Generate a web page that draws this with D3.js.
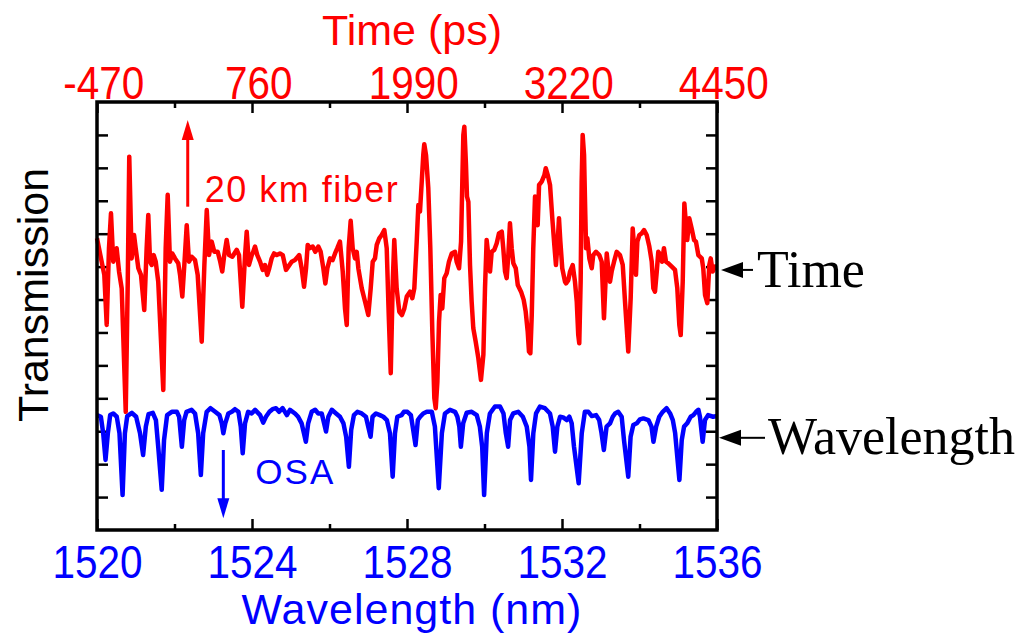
<!DOCTYPE html>
<html>
<head>
<meta charset="utf-8">
<script src="https://cdn.jsdelivr.net/npm/d3@7"></script>
<style>
  body { margin: 0; background: #fff; }
  text { font-family: "Liberation Sans", Arial, sans-serif; }
</style>
</head>
<body>
<div id="chart"></div>
<script>
// axis ticks
var waveTicks = [1520, 1524, 1528, 1532, 1536];
var timeTicks = [-470, 760, 1990, 3220, 4450];

// red trace: transmission after 20 km fiber vs time (ps)
var timePs = [-470, -433, -412, -393, -375, -359, -341, -327, -314, -295, -274, -242, -226, -214, -195, -176, -163, -142, -121, -95,
  -76, -63, -49, -36, -20, -4, 16, 56, 75, 91, 109, 128, 149, 175, 189, 207, 223, 242, 260, 282,
  308, 329, 361, 382, 401, 419, 440, 461, 488, 508, 524, 540, 559, 578, 604, 639, 657, 683, 705, 718,
  736, 758, 770, 784, 802, 824, 845, 863, 881, 897, 916, 935, 956, 982, 1004, 1030, 1048, 1075, 1101, 1135,
  1154, 1173, 1189, 1202, 1220, 1242, 1262, 1286, 1305, 1326, 1342, 1358, 1379, 1400, 1419, 1437, 1458, 1480, 1498, 1512,
  1527, 1543, 1559, 1577, 1591, 1604, 1631, 1657, 1683, 1702, 1718, 1736, 1750, 1770, 1789, 1810, 1829, 1845, 1861, 1877,
  1889, 1908, 1929, 1950, 1969, 1988, 2014, 2032, 2048, 2067, 2080, 2093, 2107, 2119, 2127, 2141, 2159, 2175, 2191, 2207,
  2218, 2231, 2244, 2257, 2270, 2286, 2305, 2323, 2345, 2371, 2384, 2403, 2419, 2429, 2437, 2445, 2458, 2466, 2477, 2490,
  2503, 2516, 2535, 2556, 2577, 2596, 2609, 2622, 2635, 2649, 2662, 2683, 2702, 2720, 2742, 2754, 2768, 2781, 2794, 2807,
  2821, 2834, 2853, 2869, 2895, 2916, 2932, 2948, 2958, 2969, 2980, 2992, 3006, 3019, 3027, 3038, 3059, 3080, 3091, 3107,
  3125, 3143, 3159, 3172, 3186, 3196, 3207, 3222, 3244, 3252, 3270, 3284, 3305, 3323, 3337, 3349, 3357, 3368, 3376, 3384,
  3395, 3405, 3411, 3421, 3437, 3456, 3468, 3490, 3516, 3535, 3553, 3575, 3587, 3601, 3614, 3633, 3654, 3680, 3702, 3720,
  3746, 3765, 3781, 3799, 3807, 3818, 3834, 3853, 3871, 3892, 3913, 3932, 3945, 3958, 3972, 3984, 4003, 4014, 4029, 4045,
  4064, 4091, 4117, 4135, 4151, 4162, 4178, 4191, 4204, 4214, 4230, 4249, 4268, 4283, 4302, 4329, 4341, 4355, 4373, 4389,
  4400, 4416, 4434, 4450];
var timeTrans = [8.86, 8.15, 7.75, 6.23, 8.56, 9.62, 8.15, 8.35, 8.56, 7.85, 7.34, 3.59, 7.54, 11.34, 8.25, 8.96, 8.56, 7.95, 7.75, 6.68,
  8.56, 9.57, 8.15, 8.05, 8.35, 8.15, 7.54, 4.25, 8.56, 10.18, 8.15, 8.40, 8.25, 8.10, 7.75, 7.09, 8.05, 9.26, 8.15, 8.30,
  8.20, 7.75, 5.72, 8.05, 9.72, 8.35, 8.76, 8.45, 8.45, 8.15, 7.85, 8.35, 8.81, 8.35, 8.30, 8.51, 8.35, 6.78, 8.35, 9.06,
  8.05, 8.35, 8.45, 8.61, 8.35, 8.15, 7.90, 8.05, 7.75, 7.95, 8.25, 8.40, 8.35, 8.40, 8.35, 7.90, 8.00, 8.15, 8.20, 8.35,
  7.95, 7.39, 7.95, 8.66, 8.56, 8.61, 8.45, 8.61, 8.45, 7.95, 7.49, 7.95, 8.25, 8.20, 8.40, 8.56, 8.76, 7.85, 6.73, 6.23,
  8.56, 9.39, 8.56, 8.25, 8.45, 7.95, 7.34, 6.94, 6.53, 7.34, 8.15, 8.25, 8.66, 8.86, 8.96, 9.11, 8.56, 6.53, 4.76, 7.54,
  8.81, 7.34, 6.63, 6.53, 6.73, 7.09, 7.24, 7.04, 7.34, 8.76, 9.87, 9.67, 10.58, 11.39, 11.72, 11.39, 10.38, 8.56, 6.02, 4.00,
  3.70, 4.50, 6.33, 7.14, 6.73, 7.65, 7.80, 8.15, 8.40, 8.45, 8.15, 7.95, 8.76, 10.58, 12.00, 12.25, 11.09, 10.13, 9.97, 8.05,
  6.94, 6.13, 5.72, 5.22, 4.56, 5.32, 7.34, 8.81, 8.35, 7.85, 8.45, 8.51, 8.71, 9.01, 9.06, 8.56, 7.85, 7.65, 8.35, 9.32,
  8.56, 8.10, 7.95, 7.44, 7.24, 6.99, 6.63, 6.02, 5.42, 5.37, 6.53, 8.56, 10.13, 9.37, 9.26, 10.48, 10.58, 10.78, 10.99, 10.78,
  10.48, 9.47, 8.66, 8.05, 8.76, 9.47, 8.76, 7.95, 7.54, 7.49, 7.59, 7.85, 8.05, 7.54, 6.94, 5.92, 5.67, 7.54, 10.58, 12.00,
  11.39, 9.57, 8.56, 8.86, 8.25, 7.95, 8.35, 8.45, 8.35, 8.15, 6.43, 8.40, 7.95, 7.54, 7.85, 8.15, 8.45, 8.35, 8.05, 6.94,
  5.42, 7.04, 9.16, 8.25, 7.75, 8.76, 8.96, 9.01, 9.11, 8.96, 8.61, 8.15, 7.34, 7.24, 7.85, 8.45, 8.35, 8.15, 8.56, 8.15,
  8.10, 8.00, 7.90, 7.34, 6.23, 5.92, 7.54, 9.92, 9.26, 8.81, 9.47, 9.16, 8.81, 8.76, 8.35, 8.25, 7.95, 7.14, 6.89, 8.05,
  8.25, 7.85, 8.00, 8.00];

// blue trace: OSA transmission vs wavelength (nm)
var waveNm = [1520.00, 1520.10, 1520.16, 1520.22, 1520.28, 1520.34, 1520.42, 1520.51, 1520.58, 1520.66, 1520.72, 1520.78, 1520.90, 1521.01, 1521.11, 1521.19, 1521.26, 1521.33, 1521.44, 1521.52,
  1521.58, 1521.67, 1521.73, 1521.81, 1521.93, 1522.06, 1522.12, 1522.19, 1522.25, 1522.31, 1522.44, 1522.53, 1522.61, 1522.68, 1522.74, 1522.83, 1522.93, 1523.05, 1523.16, 1523.22,
  1523.26, 1523.31, 1523.39, 1523.48, 1523.56, 1523.65, 1523.71, 1523.76, 1523.82, 1523.90, 1523.99, 1524.08, 1524.21, 1524.29, 1524.36, 1524.45, 1524.53, 1524.62, 1524.70, 1524.79,
  1524.90, 1524.98, 1525.11, 1525.19, 1525.28, 1525.34, 1525.39, 1525.45, 1525.54, 1525.63, 1525.71, 1525.80, 1525.86, 1525.91, 1525.97, 1526.06, 1526.17, 1526.27, 1526.36, 1526.43,
  1526.50, 1526.56, 1526.63, 1526.72, 1526.83, 1526.94, 1527.00, 1527.06, 1527.11, 1527.20, 1527.30, 1527.39, 1527.48, 1527.56, 1527.63, 1527.69, 1527.75, 1527.86, 1527.92, 1528.01,
  1528.10, 1528.16, 1528.22, 1528.28, 1528.34, 1528.42, 1528.51, 1528.64, 1528.72, 1528.82, 1528.90, 1528.98, 1529.11, 1529.24, 1529.30, 1529.35, 1529.39, 1529.45, 1529.54, 1529.67,
  1529.80, 1529.88, 1529.94, 1529.99, 1530.06, 1530.14, 1530.27, 1530.40, 1530.49, 1530.55, 1530.61, 1530.66, 1530.74, 1530.87, 1530.99, 1531.09, 1531.16, 1531.20, 1531.26, 1531.33,
  1531.43, 1531.56, 1531.69, 1531.76, 1531.82, 1531.88, 1531.95, 1532.03, 1532.12, 1532.19, 1532.25, 1532.31, 1532.43, 1532.51, 1532.59, 1532.68, 1532.77, 1532.88, 1532.96, 1533.02,
  1533.08, 1533.15, 1533.24, 1533.31, 1533.37, 1533.45, 1533.54, 1533.60, 1533.71, 1533.77, 1533.84, 1533.93, 1534.01, 1534.10, 1534.23, 1534.31, 1534.36, 1534.43, 1534.51, 1534.60,
  1534.70, 1534.79, 1534.86, 1534.92, 1535.03, 1535.09, 1535.15, 1535.23, 1535.32, 1535.39, 1535.46, 1535.52, 1535.56, 1535.63, 1535.69, 1535.77, 1535.90, 1536.00];
var waveTrans = [3.49, 3.44, 2.94, 2.13, 2.94, 3.49, 3.54, 3.44, 2.94, 1.06, 2.94, 3.46, 3.56, 3.44, 2.94, 2.28, 3.14, 3.52, 3.56, 3.34,
  2.53, 1.22, 2.73, 3.49, 3.59, 3.59, 3.44, 2.53, 3.34, 3.59, 3.65, 3.54, 2.94, 1.67, 2.94, 3.59, 3.70, 3.59, 3.49, 3.24,
  2.94, 3.24, 3.54, 3.59, 3.67, 3.59, 3.14, 2.33, 3.24, 3.59, 3.54, 3.65, 3.49, 3.26, 3.44, 3.59, 3.67, 3.70, 3.59, 3.70,
  3.49, 3.65, 3.54, 3.44, 3.24, 2.94, 2.68, 3.24, 3.59, 3.65, 3.54, 3.54, 3.24, 2.99, 3.44, 3.65, 3.54, 3.44, 3.24, 2.83,
  1.92, 3.04, 3.49, 3.59, 3.54, 3.44, 3.14, 2.83, 3.44, 3.54, 3.49, 3.44, 3.34, 2.94, 1.62, 2.94, 3.44, 3.49, 3.59, 3.59,
  3.49, 3.04, 2.58, 3.34, 3.44, 3.54, 3.59, 3.59, 3.14, 1.27, 2.94, 3.54, 3.65, 3.59, 3.44, 3.14, 2.53, 3.24, 3.56, 3.59,
  3.49, 3.14, 2.53, 1.06, 2.94, 3.54, 3.75, 3.75, 3.54, 2.94, 2.53, 3.34, 3.54, 3.59, 3.44, 3.14, 2.53, 1.52, 2.94, 3.54,
  3.75, 3.70, 3.54, 3.14, 2.38, 3.14, 3.44, 3.42, 3.34, 3.44, 3.24, 2.53, 1.42, 2.94, 3.59, 3.59, 3.46, 3.49, 3.34, 2.94,
  2.43, 3.14, 3.24, 3.44, 3.54, 3.59, 3.44, 2.73, 1.62, 2.83, 3.19, 3.24, 3.36, 3.39, 3.34, 3.14, 2.68, 3.14, 3.44, 3.59,
  3.70, 3.54, 3.34, 2.94, 1.52, 2.73, 3.14, 3.24, 3.44, 3.49, 3.59, 3.65, 3.44, 2.68, 3.34, 3.49, 3.44, 3.46];

(function () {
  var width = 1028, height = 637;
  var mLeft = 97, mRight = 717, mTop = 102, mBottom = 530;

  var svg = d3.select("#chart").append("svg")
    .attr("width", width)
    .attr("height", height);

  var xWave = d3.scaleLinear().domain([1520, 1536]).range([mLeft, mRight]);
  var xTime = d3.scaleLinear().domain([-470, 4450]).range([mLeft, mRight]);
  var y = d3.scaleLinear().domain([0, 13]).range([mBottom, mTop]);

  function midpoints(arr) {
    return d3.pairs(arr).map(function(p) { return (p[0] + p[1]) / 2; });
  }

  function styleTicks(g) {
    g.select(".domain").remove();
    g.selectAll(".tick line").attr("stroke", "#000").attr("stroke-width", 2.5);
  }

  // bottom axis (wavelength)
  svg.append("g")
    .attr("transform", "translate(0," + mBottom + ")")
    .call(d3.axisBottom(xWave).tickValues(midpoints(waveTicks)).tickSize(-6).tickFormat(""))
    .call(styleTicks);
  var gBottom = svg.append("g")
    .attr("transform", "translate(0," + mBottom + ")")
    .call(d3.axisBottom(xWave).tickValues(waveTicks).tickSize(-11).tickFormat(String))
    .call(styleTicks);
  gBottom.selectAll("text")
    .attr("y", 48).attr("dy", null)
    .attr("fill", "#0000ff")
    .style("font-size", "46px")
    .attr("transform", "scale(0.88,1)");

  // top axis (time)
  svg.append("g")
    .attr("transform", "translate(0," + mTop + ")")
    .call(d3.axisTop(xTime).tickValues(midpoints(timeTicks)).tickSize(-6).tickFormat(""))
    .call(styleTicks);
  var gTop = svg.append("g")
    .attr("transform", "translate(0," + mTop + ")")
    .call(d3.axisTop(xTime).tickValues(timeTicks).tickSize(-11).tickFormat(String))
    .call(styleTicks);
  gTop.selectAll("text")
    .attr("y", -3).attr("dy", null)
    .attr("x", 7)
    .attr("fill", "#ff0000")
    .style("font-size", "46px")
    .attr("transform", "scale(0.88,1)");

  // left / right ticks
  var yTicks = d3.range(1, 13);
  svg.append("g")
    .attr("transform", "translate(" + mLeft + ",0)")
    .call(d3.axisLeft(y).tickValues(yTicks).tickSize(-11).tickFormat(""))
    .call(styleTicks);
  svg.append("g")
    .attr("transform", "translate(" + mRight + ",0)")
    .call(d3.axisRight(y).tickValues(yTicks).tickSize(-11).tickFormat(""))
    .call(styleTicks);

  // traces
  var timeData = timePs.map(function(t, i) { return [t, timeTrans[i]]; });
  var waveData = waveNm.map(function(w, i) { return [w, waveTrans[i]]; });

  svg.append("path")
    .datum(waveData)
    .attr("fill", "none")
    .attr("stroke", "#0000ff")
    .attr("stroke-width", 4.5)
    .attr("stroke-linejoin", "round")
    .attr("d", d3.line().x(function(d) { return xWave(d[0]); }).y(function(d) { return y(d[1]); }));

  svg.append("path")
    .datum(timeData)
    .attr("fill", "none")
    .attr("stroke", "#ff0000")
    .attr("stroke-width", 4.5)
    .attr("stroke-linejoin", "round")
    .attr("d", d3.line().x(function(d) { return xTime(d[0]); }).y(function(d) { return y(d[1]); }));

  // frame
  svg.append("rect")
    .attr("x", mLeft).attr("y", mTop)
    .attr("width", mRight - mLeft).attr("height", mBottom - mTop)
    .attr("fill", "none")
    .attr("stroke", "#000")
    .attr("stroke-width", 3.5);

  // axis titles
  svg.append("text")
    .attr("x", 412).attr("y", 45)
    .attr("text-anchor", "middle")
    .attr("fill", "#ff0000")
    .style("font-size", "43px")
    .text("Time (ps)");

  svg.append("text")
    .attr("x", 412).attr("y", 624)
    .attr("text-anchor", "middle")
    .attr("fill", "#0000ff")
    .style("font-size", "43px")
    .style("letter-spacing", "1px")
    .text("Wavelength (nm)");

  svg.append("text")
    .attr("transform", "translate(48,295) rotate(-90)")
    .attr("text-anchor", "middle")
    .attr("fill", "#000")
    .style("font-size", "43px")
    .text("Transmission");

  // vertical arrows inside plot
  function vArrow(x, y1, y2, color) {
    var dir = y2 < y1 ? 1 : -1;
    svg.append("line")
      .attr("x1", x).attr("x2", x)
      .attr("y1", y1).attr("y2", y2 + dir * 16)
      .attr("stroke", color).attr("stroke-width", 3);
    svg.append("path")
      .attr("d", "M" + x + "," + y2 + "L" + (x - 6) + "," + (y2 + dir * 20) + "L" + (x + 6) + "," + (y2 + dir * 20) + "Z")
      .attr("fill", color);
  }
  vArrow(xTime(250), y(9.82), y(12.45), "#ff0000");
  vArrow(xWave(1523.26), y(2.43), y(0.36), "#0000ff");

  svg.append("text")
    .attr("x", xTime(250) + 17).attr("y", 202)
    .attr("fill", "#ff0000")
    .style("font-size", "36px")
    .style("letter-spacing", "1.5px")
    .text("20 km fiber");

  svg.append("text")
    .attr("x", xWave(1523.26) + 32).attr("y", 484)
    .attr("fill", "#0000ff")
    .style("font-size", "35px")
    .style("letter-spacing", "2px")
    .text("OSA");

  // right-side labels with arrows
  function hArrow(x1, x2, yy) {
    svg.append("line")
      .attr("x1", x1 + 14).attr("x2", x2)
      .attr("y1", yy).attr("y2", yy)
      .attr("stroke", "#000").attr("stroke-width", 2);
    svg.append("path")
      .attr("d", "M" + x1 + "," + yy + "L" + (x1 + 22) + "," + (yy - 8) + "L" + (x1 + 22) + "," + (yy + 8) + "Z")
      .attr("fill", "#000");
  }
  hArrow(mRight + 4, mRight + 36, y(7.9));
  hArrow(mRight + 2, mRight + 48, y(2.8));

  svg.append("text")
    .attr("x", 757).attr("y", 287)
    .style("font-family", "'Liberation Serif', 'Times New Roman', serif")
    .style("font-size", "52px")
    .attr("fill", "#000")
    .text("Time");

  svg.append("text")
    .attr("x", 768).attr("y", 454)
    .style("font-family", "'Liberation Serif', 'Times New Roman', serif")
    .style("font-size", "52px")
    .attr("fill", "#000")
    .text("Wavelength");
})();
</script>
</body>
</html>
